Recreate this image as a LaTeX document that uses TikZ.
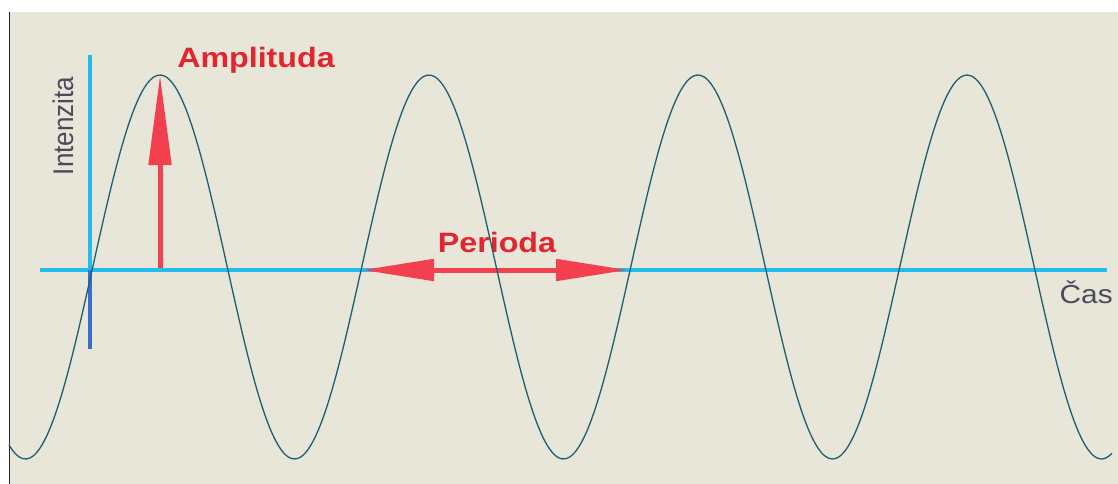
\documentclass[tikz,border=0pt]{standalone}
\usepackage{fontspec}
\setmainfont{Liberation Sans}
\usetikzlibrary{arrows.meta}
\definecolor{paper}{HTML}{E8E6D8}
\definecolor{wavecol}{HTML}{1E5E72}
\definecolor{axiscyan}{HTML}{22BDEA}
\definecolor{axisblue}{HTML}{3A6CD6}
\definecolor{arrowred}{HTML}{F2404E}
\definecolor{labelred}{HTML}{E0262F}
\definecolor{labelgrey}{HTML}{4A4A5C}

\begin{document}
\begin{tikzpicture}[
      x=1pt, y=-1pt,
      axis/.style={line width=3.2pt},
      wave/.style={draw=wavecol, line width=1.3pt},
      redarr/.style={draw=arrowred, fill=arrowred, line width=5pt},
      title/.style={text=labelred, font=\fontsize{28}{30}\selectfont\bfseries,
                    xscale=1.15, inner sep=0pt, anchor=base},
      axlabel/.style={text=labelgrey, font=\fontsize{26}{28}\selectfont,
                      xscale=1.15, inner sep=0pt}
    ]
    \useasboundingbox (0,0) rectangle (1118,484);
    \fill[white] (0,0) rectangle (1118,484);
    \fill[paper] (9,12) rectangle (1118,484);
    \draw[black!85, line width=1.5pt] (9.5,12) -- (9.5,484);

    % axes
    \coordinate (origin) at (90,270);
    \coordinate (ytop)   at (90,55);
    \coordinate (ybot)   at (90,349);
    \coordinate (xstart) at (40,270);
    \coordinate (xend)   at (1107,270);
    \draw[axis, axiscyan] (xstart) -- (xend);
    \draw[axis, axiscyan] (ytop) -- (origin);
    \draw[axis, axisblue] (origin) -- (ybot);

    % labels
    \node[axlabel, xscale=0.95, rotate=90, anchor=base] (ylab) at (73,126) {Intenzita};
    \node[axlabel, anchor=base east] (xlab) at (1113,303) {Čas};
    \node[title] (amplab) at (256,68) {Amplituda};
    \node[title] (perlab) at (497,252) {Perioda};

    % amplitude and period arrows
    \coordinate (peak)     at (160,75);
    \coordinate (peakbase) at (160,268);
    \coordinate (pstart)   at (362,270);
    \coordinate (pend)     at (628,270);
    \draw[redarr, -{Triangle[length=90pt,width=22pt]}] (peakbase) -- (peak);
    \draw[redarr, {Triangle[length=72pt,width=21pt]}-{Triangle[length=72pt,width=21pt]}]
      (pstart) -- (pend);

    % signal
    \draw[wave] plot[domain=9:1112, samples=320, smooth]
      (\x, {267-192*sin(1.33829*(\x-92.75))});
  \end{tikzpicture}
\end{document}
